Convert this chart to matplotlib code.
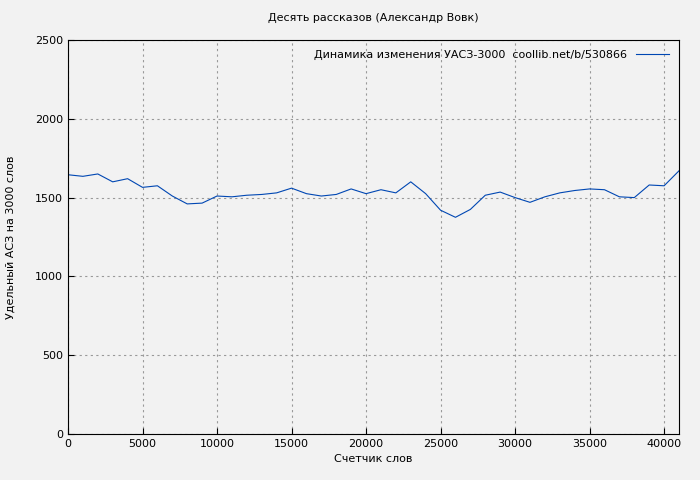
import numpy as np
import matplotlib.pyplot as plt

words = list(range(0, 42000, 1000))
uasz = [1645, 1635, 1650, 1600, 1620, 1565, 1575, 1510, 1460, 1465,
        1510, 1505, 1515, 1520, 1530, 1560, 1525, 1510, 1520, 1555,
        1525, 1550, 1530, 1600, 1525, 1420, 1375, 1425, 1515, 1535,
        1500, 1470, 1505, 1530, 1545, 1555, 1550, 1505, 1500, 1580,
        1575, 1670]

fig = plt.figure(figsize=(7, 4.8), dpi=100, facecolor="#f2f2f2")
ax = fig.add_axes([68 / 700, 46 / 480, 611 / 700, 394 / 480])
ax.set_facecolor("#f2f2f2")
ax.plot(words, uasz, color="#0047b3", linewidth=0.8,
        label="Динамика изменения УАСЗ-3000  coollib.net/b/530866")
ax.set_xlim(0, 41000)
ax.set_ylim(0, 2500)
ax.set_xticks(range(0, 41000, 5000))
ax.set_yticks(range(0, 2501, 500))
ax.grid(True, color="#999999", linestyle=(0, (2, 3)), linewidth=0.8)
ax.tick_params(labelsize=8, direction="in", length=4)
ax.set_xlabel("Счетчик слов", fontsize=8)
ax.set_ylabel("Удельный АСЗ на 3000 слов", fontsize=8, labelpad=14)
ax.set_title("Десять рассказов (Александр Вовк)", fontsize=8, pad=14)
leg = ax.legend(loc="upper right", fontsize=8, frameon=False, markerfirst=False,
                handlelength=3)
fig.savefig("out.png", dpi=100, facecolor=fig.get_facecolor())
